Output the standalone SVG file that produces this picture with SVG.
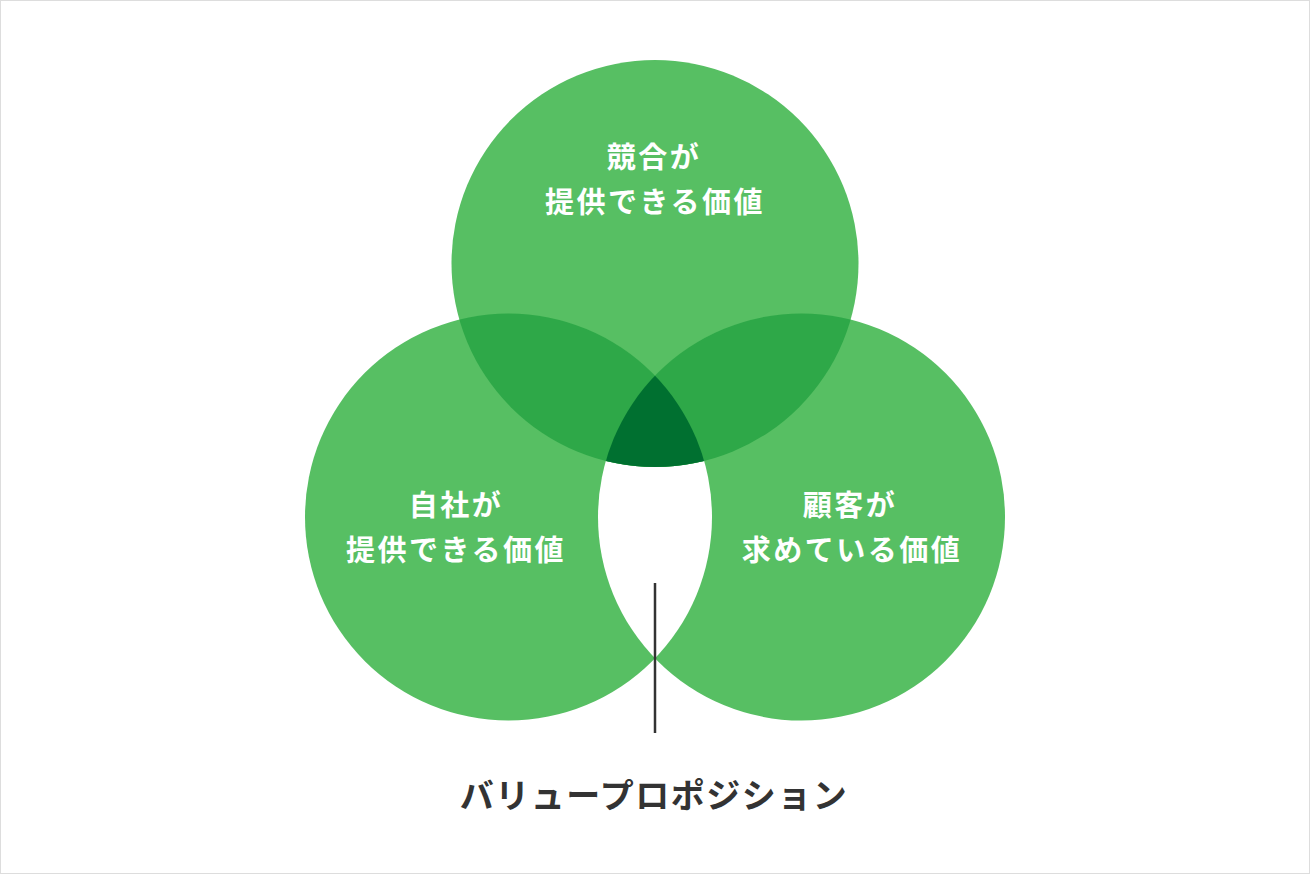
<svg xmlns="http://www.w3.org/2000/svg" width="1310" height="874" viewBox="0 0 1310 874">
<style>
.lbl{font-family:"Noto Sans CJK JP","Noto Sans",sans-serif;font-weight:bold;font-size:29px;letter-spacing:2.5px;fill:#ffffff;text-anchor:middle}
.cap{font-family:"Noto Sans CJK JP","Noto Sans",sans-serif;font-weight:bold;font-size:34px;letter-spacing:1.5px;fill:#333333;text-anchor:middle}
.c1{fill:#57bf63}
</style>
<defs>
<clipPath id="clipTop"><circle cx="655" cy="263.5" r="203.5"/></clipPath>
<clipPath id="clipLeft"><circle cx="508.5" cy="517" r="203.5"/></clipPath>
<clipPath id="clipRight"><circle cx="801.5" cy="517" r="203.5"/></clipPath>
</defs>
<rect x="0.5" y="0.5" width="1309" height="873" fill="#ffffff" stroke="#dddddd" stroke-width="1"/>
<g id="node-top">
<circle class="c1" cx="655" cy="263.5" r="203.5"/>
</g>
<g id="node-left">
<circle class="c1" cx="508.5" cy="517" r="203.5"/>
</g>
<g id="node-right">
<circle class="c1" cx="801.5" cy="517" r="203.5"/>
</g>
<g id="overlaps">
<g clip-path="url(#clipLeft)"><circle cx="801.5" cy="517" r="203.5" fill="#ffffff"/></g>
<g clip-path="url(#clipTop)"><circle cx="508.5" cy="517" r="203.5" fill="#2ea848"/></g>
<g clip-path="url(#clipTop)"><circle cx="801.5" cy="517" r="203.5" fill="#2ea848"/></g>
<g clip-path="url(#clipTop)"><g clip-path="url(#clipLeft)"><circle cx="801.5" cy="517" r="203.5" fill="#007030"/></g></g>
</g>
<g id="labels">
<text class="lbl" x="654" y="168">競合が</text>
<text class="lbl" x="655" y="213">提供できる価値</text>
<text class="lbl" x="456" y="516">自社が</text>
<text class="lbl" x="456" y="561">提供できる価値</text>
<text class="lbl" x="850" y="516">顧客が</text>
<text class="lbl" x="852" y="561">求めている価値</text>
</g>
<g id="connectors">
<line x1="655" y1="583" x2="655" y2="733" stroke="#333333" stroke-width="2.5"/>
</g>
<g id="node-caption">
<text class="cap" x="654" y="808">バリュープロポジション</text>
</g>
</svg>
